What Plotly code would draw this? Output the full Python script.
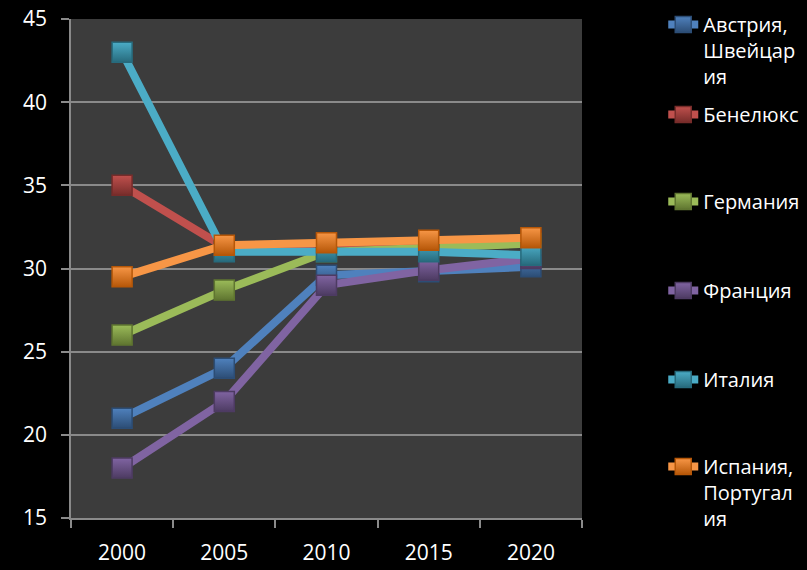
import plotly.graph_objects as go

years = ["2000", "2005", "2010", "2015", "2020"]
series_names = [
    "Австрия,<br>Швейцар<br>ия",
    "Бенелюкс",
    "Германия",
    "Франция",
    "Италия",
    "Испания,<br>Португал<br>ия",
]
austria = [21.0, 24.0, 29.6, 29.8, 30.1]
benelux = [35.0, 31.3, 31.5, 31.6, 31.7]
germany = [26.0, 28.7, 31.0, 31.3, 31.5]
france = [18.0, 22.0, 29.0, 29.9, 30.6]
italy = [43.0, 31.0, 31.0, 31.0, 30.8]
spain = [29.5, 31.4, 31.55, 31.7, 31.85]
y_ticks = [15, 20, 25, 30, 35, 40, 45]

values = [austria, benelux, germany, france, italy, spain]
colors = ["#4F81BD", "#C0504D", "#9BBB59", "#8064A2", "#4BACC6", "#F79646"]
dark = ["#2C4D75", "#772C2A", "#5F7530", "#4D3B62", "#276A7C", "#B65708"]

# legend first-line centers (px) -> paper coords
legend_px = [21, 111, 198, 287, 376, 463]
plot_top, plot_bot = 19, 518

fig = go.Figure()
for i, (name, vals) in enumerate(zip(series_names, values)):
    lg = "legend" if i == 0 else f"legend{i+1}"
    fig.add_trace(go.Scatter(
        x=years, y=vals, name=name, mode="lines+markers",
        line=dict(color=colors[i], width=8),
        marker=dict(symbol="square", size=20, color=colors[i],
                    gradient=dict(type="vertical", color=dark[i]),
                    line=dict(color=dark[i], width=1.5)),
        legend=lg, showlegend=True,
    ))

layout = dict(
    width=807, height=570,
    paper_bgcolor="#000000", plot_bgcolor="#3C3C3C",
    margin=dict(l=71, r=225, t=19, b=52, autoexpand=False),
    font=dict(family="Open Sans", color="#FFFFFF", size=20),
    xaxis=dict(type="category", range=[-0.5, 4.5], showgrid=False,
               ticks="outside", ticklen=8, tickcolor="#8A8A8A", tickwidth=1.5,
               tickson="boundaries", showline=True, linecolor="#8A8A8A", linewidth=1.5,
               tickfont=dict(size=21, color="#FFFFFF"), ticklabelstandoff=15),
    yaxis=dict(range=[15, 45], tickvals=y_ticks, showgrid=True,
               gridcolor="#8A8A8A", gridwidth=1.5, zeroline=False,
               ticks="outside", ticklen=8, tickcolor="#8A8A8A", tickwidth=1.5,
               showline=True, linecolor="#8A8A8A", linewidth=1.5,
               tickfont=dict(size=21, color="#FFFFFF"), ticklabelstandoff=10),
)
for i, p in enumerate(legend_px):
    key = "legend" if i == 0 else f"legend{i+1}"
    layout[key] = dict(
        x=1.159, xanchor="left", y=(plot_bot - p + 16) / (plot_bot - plot_top), yanchor="top",
        bgcolor="rgba(0,0,0,0)", borderwidth=0, valign="top",
        font=dict(family="Open Sans", size=20, color="#FFFFFF"),
        itemwidth=30,
    )
fig.update_layout(**layout)
fig.write_html("out.html", config={"displayModeBar": False},
               post_script="document.body.style.margin='0';")
